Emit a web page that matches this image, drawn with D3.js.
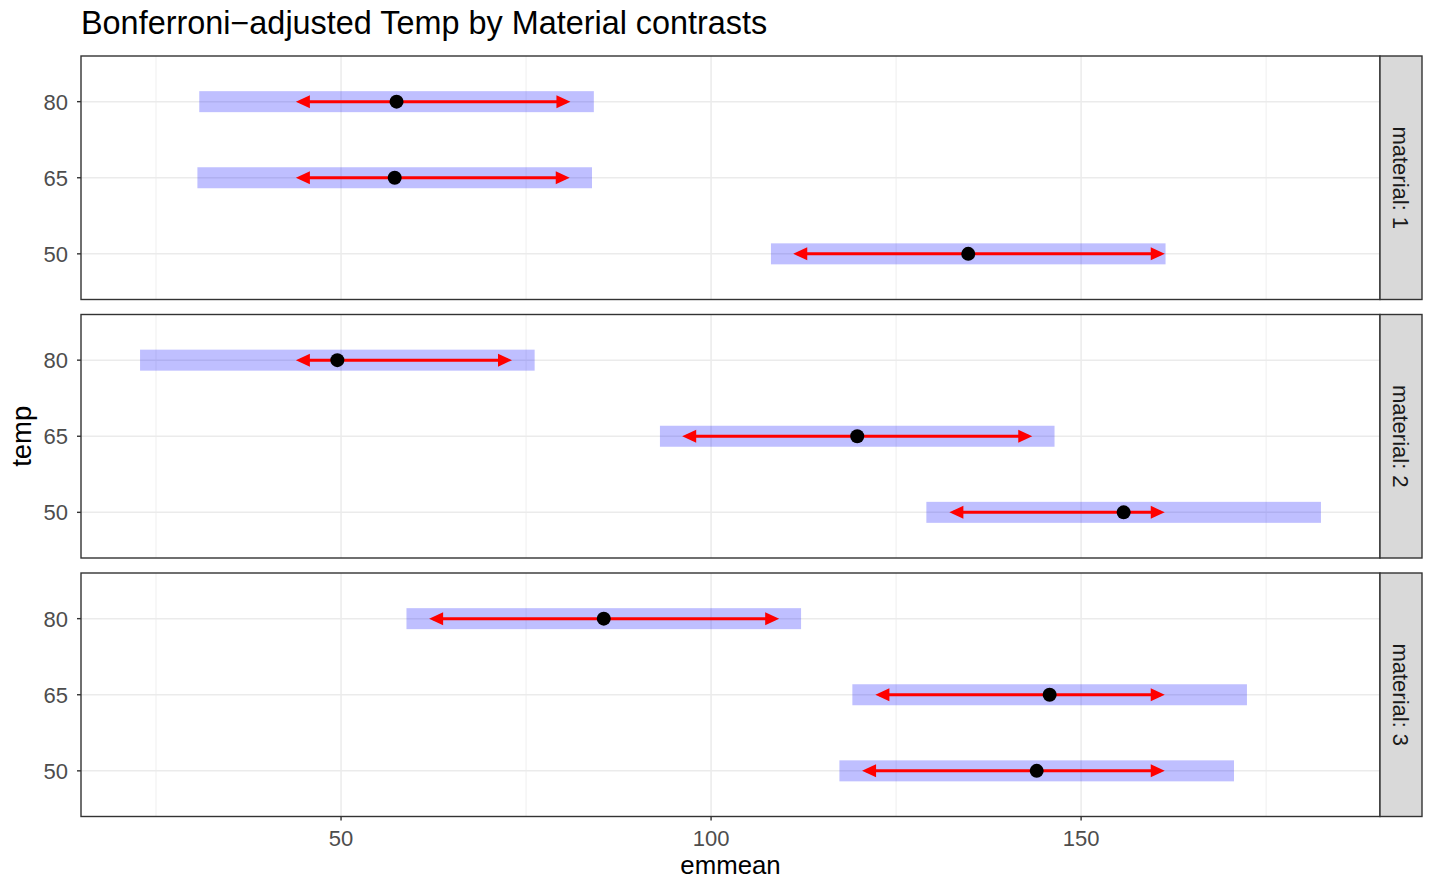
<!DOCTYPE html>
<html>
<head>
<meta charset="utf-8">
<script src="https://cdn.jsdelivr.net/npm/d3@7"></script>
<style>
  html, body { margin: 0; padding: 0; background: #fff; }
  svg { display: block; font-family: "Liberation Sans", Arial, Helvetica, sans-serif; }
</style>
</head>
<body>
<svg id="chart" width="1429" height="880"></svg>
<script>
// Estimated marginal means of battery life, by temperature within each material
const materials = ["1", "2", "3"];
const temps = ["50", "65", "80"];

const emmean = {
  "1": [134.75, 57.25, 57.5],
  "2": [155.75, 119.75, 49.5],
  "3": [144.0, 145.75, 85.5]
};
const lowerCL = {
  "1": [108.09, 30.59, 30.84],
  "2": [129.09, 93.09, 22.84],
  "3": [117.34, 119.09, 58.84]
};
const upperCL = {
  "1": [161.41, 83.91, 84.16],
  "2": [182.41, 146.41, 76.16],
  "3": [170.66, 172.41, 112.16]
};
// Comparison arrow ends (Bonferroni-adjusted)
const arrowLeft = {
  "1": [111.1, 43.9, 43.9],
  "2": [132.2, 96.1, 43.9],
  "3": [120.4, 122.2, 61.9]
};
const arrowRight = {
  "1": [161.3, 80.9, 81.0],
  "2": [161.3, 143.4, 73.1],
  "3": [161.3, 161.3, 109.2]
};

const xMajor = [50, 100, 150];
const xMinor = [25, 75, 125, 175];

const svg = d3.select("#chart");

const panelLeft = 81, panelRight = 1380;
const stripW = 42;
const panelTop0 = 56, panelH = 243.5, panelGap = 15;

// x-domain: data range of the intervals with 5% padding
const allLo = d3.min(materials, m => d3.min(lowerCL[m]));
const allHi = d3.max(materials, m => d3.max(upperCL[m]));
const pad = (allHi - allLo) * 0.05;
const x = d3.scaleLinear().domain([allLo - pad, allHi + pad]).range([panelLeft, panelRight]);

const y = d3.scalePoint().domain(temps.slice().reverse()).range([0, panelH]).padding(0.6);

const grid = "#EBEBEB";
const dark = "#333333";
const tickSize = 22;

// Title
svg.append("text")
  .attr("x", panelLeft).attr("y", 34)
  .attr("font-size", 32.4).attr("fill", "#000")
  .text("Bonferroni\u2212adjusted Temp by Material contrasts");

materials.forEach((m, i) => {
  const top = panelTop0 + i * (panelH + panelGap);
  const g = svg.append("g").attr("transform", `translate(0,${top})`);

  // panel background
  g.append("rect").attr("x", panelLeft).attr("y", 0)
    .attr("width", panelRight - panelLeft).attr("height", panelH).attr("fill", "#fff");

  // minor vertical grid
  g.selectAll(".minor").data(xMinor).join("line")
    .attr("x1", d => x(d)).attr("x2", d => x(d))
    .attr("y1", 0).attr("y2", panelH)
    .attr("stroke", grid).attr("stroke-width", 0.8);
  // major vertical grid
  g.selectAll(".major").data(xMajor).join("line")
    .attr("x1", d => x(d)).attr("x2", d => x(d))
    .attr("y1", 0).attr("y2", panelH)
    .attr("stroke", grid).attr("stroke-width", 1.5);
  // horizontal grid
  g.selectAll(".hgrid").data(temps).join("line")
    .attr("x1", panelLeft).attr("x2", panelRight)
    .attr("y1", d => y(d)).attr("y2", d => y(d))
    .attr("stroke", grid).attr("stroke-width", 1.5);

  const rows = temps.map((t, k) => ({
    t, mean: emmean[m][k], lo: lowerCL[m][k], hi: upperCL[m][k],
    al: arrowLeft[m][k], ar: arrowRight[m][k]
  }));

  // confidence interval bars
  g.selectAll(".ci").data(rows).join("rect")
    .attr("x", d => x(d.lo)).attr("width", d => x(d.hi) - x(d.lo))
    .attr("y", d => y(d.t) - 10.5).attr("height", 21)
    .attr("fill", "#0000FF").attr("fill-opacity", 0.25);

  // comparison arrows, drawn from the mean outwards
  g.selectAll(".arrL").data(rows).join("line")
    .attr("x1", d => x(d.mean)).attr("x2", d => x(d.al) + 4)
    .attr("y1", d => y(d.t)).attr("y2", d => y(d.t))
    .attr("stroke", "#FF0000").attr("stroke-width", 3);
  g.selectAll(".arrR").data(rows).join("line")
    .attr("x1", d => x(d.mean)).attr("x2", d => x(d.ar) - 4)
    .attr("y1", d => y(d.t)).attr("y2", d => y(d.t))
    .attr("stroke", "#FF0000").attr("stroke-width", 3);
  g.selectAll(".headL").data(rows).join("path")
    .attr("d", d => `M${x(d.al)},${y(d.t)} l14,-6.5 l0,13 Z`)
    .attr("fill", "#FF0000");
  g.selectAll(".headR").data(rows).join("path")
    .attr("d", d => `M${x(d.ar)},${y(d.t)} l-14,-6.5 l0,13 Z`)
    .attr("fill", "#FF0000");

  // means
  g.selectAll(".pt").data(rows).join("circle")
    .attr("cx", d => x(d.mean)).attr("cy", d => y(d.t)).attr("r", 7)
    .attr("fill", "#000");

  // panel border
  g.append("rect").attr("x", panelLeft).attr("y", 0)
    .attr("width", panelRight - panelLeft).attr("height", panelH)
    .attr("fill", "none").attr("stroke", dark).attr("stroke-width", 1.4);

  // y axis
  const ya = g.append("g");
  ya.selectAll(".tk").data(temps).join("line")
    .attr("x1", panelLeft - 4).attr("x2", panelLeft)
    .attr("y1", d => y(d)).attr("y2", d => y(d))
    .attr("stroke", dark).attr("stroke-width", 1.4);
  ya.selectAll(".tl").data(temps).join("text")
    .attr("x", panelLeft - 13).attr("y", d => y(d))
    .attr("dy", "0.36em").attr("text-anchor", "end")
    .attr("font-size", tickSize).attr("fill", "#4D4D4D")
    .text(d => d);

  // strip
  g.append("rect").attr("x", panelRight).attr("y", 0)
    .attr("width", stripW).attr("height", panelH)
    .attr("fill", "#D9D9D9").attr("stroke", dark).attr("stroke-width", 1.4);
  g.append("text")
    .attr("transform", `translate(${panelRight + stripW / 2},${panelH / 2}) rotate(90)`)
    .attr("text-anchor", "middle").attr("dy", "0.36em")
    .attr("font-size", tickSize).attr("fill", "#1A1A1A")
    .text("material: " + m);

  // x axis on the bottom panel only
  if (i === materials.length - 1) {
    const xa = g.append("g");
    xa.selectAll(".xt").data(xMajor).join("line")
      .attr("x1", d => x(d)).attr("x2", d => x(d))
      .attr("y1", panelH).attr("y2", panelH + 4)
      .attr("stroke", dark).attr("stroke-width", 1.4);
    xa.selectAll(".xl").data(xMajor).join("text")
      .attr("x", d => x(d)).attr("y", 846 - top)
      .attr("text-anchor", "middle")
      .attr("font-size", tickSize).attr("fill", "#4D4D4D")
      .text(d => d);
  }
});

// axis titles
const lastBottom = panelTop0 + 3 * panelH + 2 * panelGap;
svg.append("text")
  .attr("x", (panelLeft + panelRight) / 2).attr("y", 874.4)
  .attr("text-anchor", "middle").attr("font-size", 25.8).attr("fill", "#000")
  .text("emmean");
svg.append("text")
  .attr("transform", `translate(31,${(panelTop0 + lastBottom) / 2}) rotate(-90)`)
  .attr("text-anchor", "middle").attr("font-size", 27.5).attr("fill", "#000")
  .text("temp");
</script>
</body>
</html>
